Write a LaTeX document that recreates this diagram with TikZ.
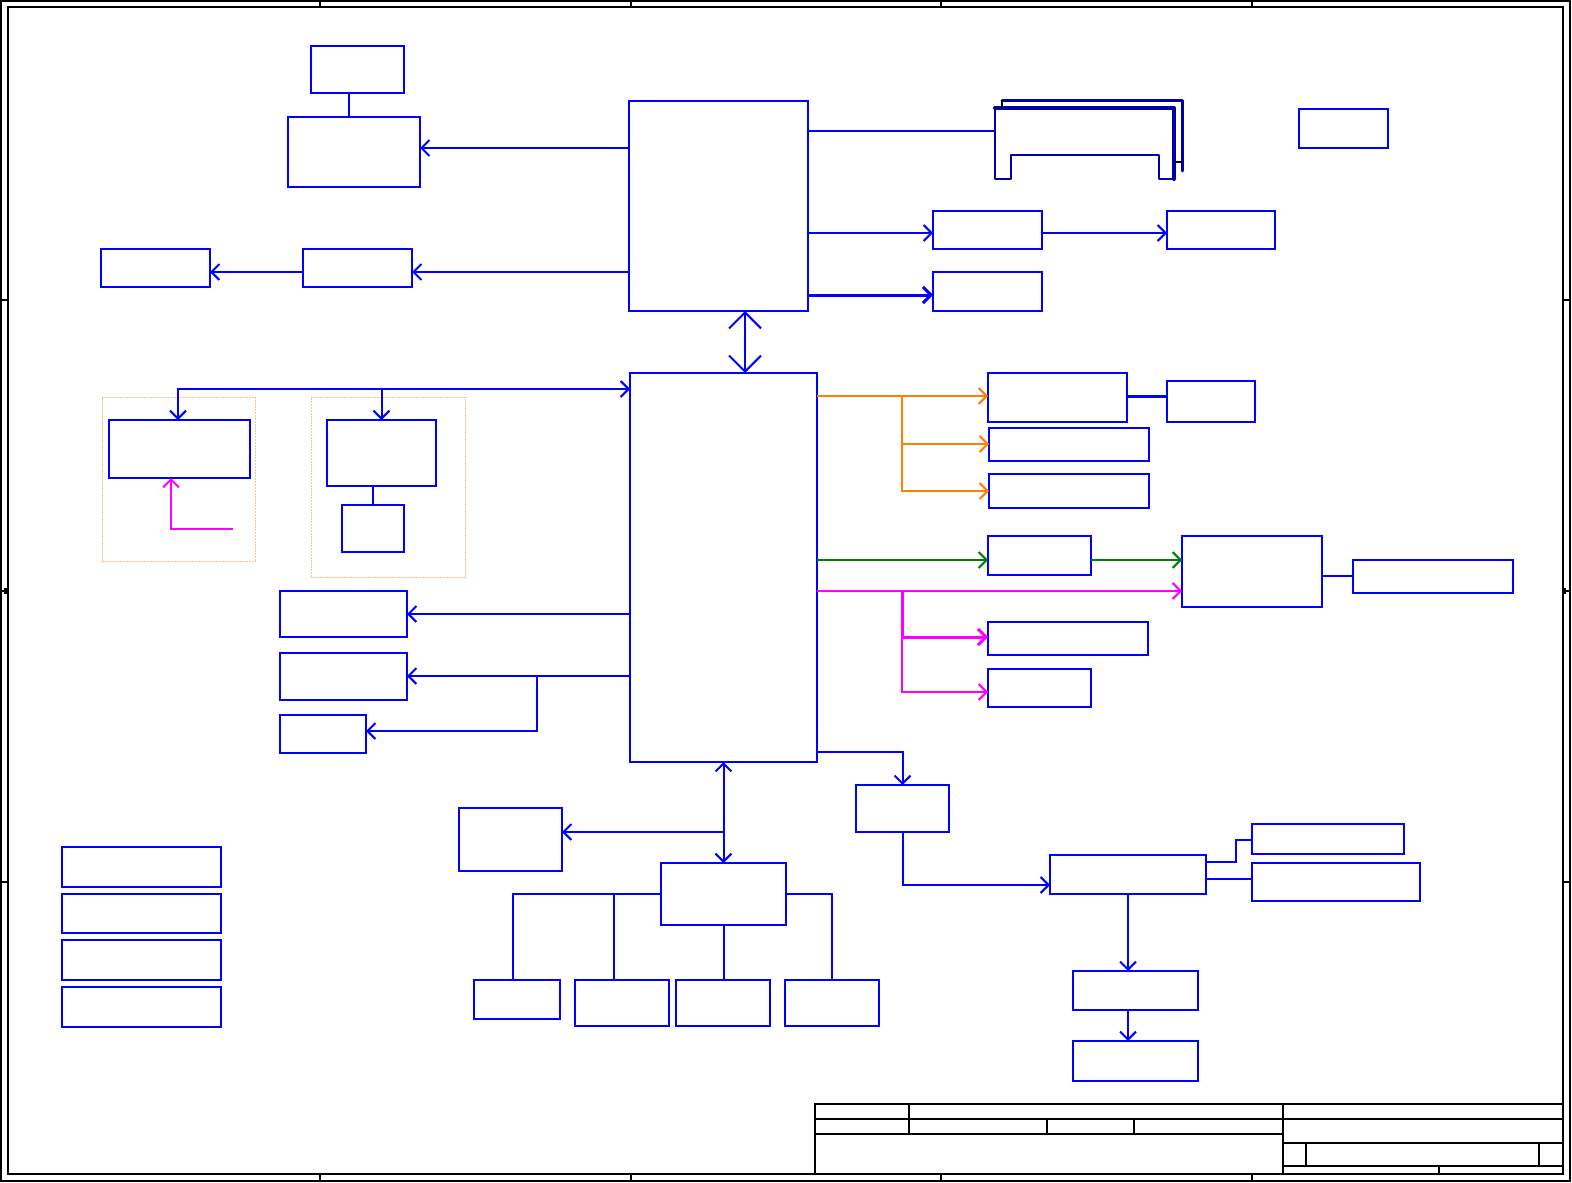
\documentclass[tikz,border=0pt]{standalone}
\usetikzlibrary{arrows.meta}
\definecolor{cblue}{RGB}{0,0,255}
\definecolor{cnavy}{RGB}{0,0,165}
\definecolor{corange}{RGB}{255,128,0}
\definecolor{cgreen}{RGB}{0,128,0}
\definecolor{cmag}{RGB}{255,0,255}
\definecolor{cdot}{RGB}{255,190,130}
\newcommand{\blk}[6][]{\node[blk,#1,minimum width={(#5)-(#3)},minimum height={(#6)-(#4)}] (#2) at ({((#3)+(#5))/2},{((#4)+(#6))/2}) {};}
\begin{document}
\begin{tikzpicture}[x=1pt,y=-1pt,
  blk/.style={draw=cblue,line width=2pt,rectangle,inner sep=0pt,outer sep=0pt},
  grp/.style={draw=cdot,line width=0.8pt,dash pattern=on 2pt off 1pt,rectangle,inner sep=0pt,outer sep=0pt},
  wire/.style={draw=cblue,line width=2pt},
  arr/.style={wire,-{Straight Barb[length=8pt,width=16pt]}},
  barr/.style={wire,{Straight Barb[length=8pt,width=16pt]}-{Straight Barb[length=8pt,width=16pt]}},
  bigarr/.style={wire,{Straight Barb[length=16pt,width=32pt]}-{Straight Barb[length=16pt,width=32pt]}},
  oarr/.style={arr,draw=corange},
  garr/.style={arr,draw=cgreen},
  marr/.style={arr,draw=cmag},
  frm/.style={draw=black,line width=1.3pt},
  dimm/.style={draw=cnavy,line width=3pt,line join=round,line cap=round}]
\useasboundingbox (0,0) rectangle (1572,1183);
\fill[white] (0,0) rectangle (1572,1183);
% frame
\draw[frm] (1,1) rectangle (1570,1181);
\draw[frm] (8,7) rectangle (1563,1174);
\foreach \x in {320,631,941,1252}{\draw[frm] (\x,1) -- (\x,7); \draw[frm] (\x,1174) -- (\x,1181);}
\foreach \y in {300,882}{\draw[frm] (1,\y) -- (8,\y); \draw[frm] (1563,\y) -- (1570,\y);}
\draw[frm] (1,591) -- (8,591); \fill (4,588) rectangle (7,594);
\draw[frm] (1563,591) -- (1570,591); \fill (1563,588) rectangle (1566,594);
% title block
\draw[frm] (815,1174) -- (815,1104) -- (1563,1104);
\draw[frm] (815,1119) -- (1563,1119);
\draw[frm] (815,1134) -- (1283,1134);
\draw[frm] (909,1104) -- (909,1134);
\draw[frm] (1047,1119) -- (1047,1134);
\draw[frm] (1134,1119) -- (1134,1134);
\draw[frm] (1283,1104) -- (1283,1174);
\draw[frm] (1283,1143) -- (1563,1143);
\draw[frm] (1283,1166) -- (1563,1166);
\draw[frm] (1306,1143) -- (1306,1166);
\draw[frm] (1539,1143) -- (1539,1166);
\draw[frm] (1439,1166) -- (1439,1174);
% blocks
\blk{n1}{311}{46}{404}{93}
\blk{n2}{288}{117}{420}{187}
\blk{a1}{101}{249}{210}{287}
\blk{a2}{303}{249}{412}{287}
\blk{cpu}{629}{101}{808}{311}
\blk{r1}{933}{211}{1042}{249}
\blk{r2}{933}{272}{1042}{311}
\blk{r3}{1167}{211}{1275}{249}
\blk{tr}{1299}{109}{1388}{148}
\blk{sb}{630}{373}{817}{762}
\node[grp,minimum width=153,minimum height=164] (gA) at ({(102+255)/2},{(397+561)/2}) {};
\node[grp,minimum width=154,minimum height=180] (gB) at ({(311+465)/2},{(397+577)/2}) {};
\blk{p1}{109}{420}{250}{478}
\blk{p2}{327}{420}{436}{486}
\blk{p3}{342}{505}{404}{552}
\blk{l1}{280}{591}{407}{637}
\blk{l2}{280}{653}{407}{700}
\blk{l3}{280}{715}{366}{753}
\blk{o1}{988}{373}{1127}{422}
\blk{o1b}{1167}{381}{1255}{422}
\blk{o2}{989}{428}{1149}{461}
\blk{o3}{989}{474}{1149}{508}
\blk{g1}{988}{536}{1091}{575}
\blk{h}{1182}{536}{1322}{607}
\blk{h2}{1353}{560}{1513}{593}
\blk{m1}{988}{622}{1148}{655}
\blk{m2}{988}{669}{1091}{707}
\blk{e1}{856}{785}{949}{832}
\blk{e2}{1050}{855}{1206}{894}
\blk{e3}{1252}{824}{1404}{854}
\blk{e4}{1252}{863}{1420}{901}
\blk{e5}{1073}{971}{1198}{1010}
\blk{e6}{1073}{1041}{1198}{1081}
\blk{k1}{459}{808}{562}{871}
\blk{k2}{661}{863}{786}{925}
\blk{c1}{474}{980}{560}{1019}
\blk{c2}{575}{980}{669}{1026}
\blk{c3}{676}{980}{770}{1026}
\blk{c4}{785}{980}{879}{1026}
\blk{leg1}{62}{847}{221}{887}
\blk{leg2}{62}{894}{221}{933}
\blk{leg3}{62}{940}{221}{980}
\blk{leg4}{62}{987}{221}{1027}
% memory slot graphic
\coordinate (dimm) at (995,131);
\draw[dimm] (1002,100) -- (1182,100) -- (1182,171);
\draw[dimm,line width=4pt] (995,108) -- (1174,108) -- (1174,179);
\draw[dimm,line width=2.5pt] (995,108) -- (995,179) -- (1011,179) -- (1011,155) -- (1159,155) -- (1159,179) -- (1174,179);
\draw[black,line width=1.3pt] (1002,100) -- (1002,108);
\draw[black,line width=1.3pt] (1176,162) -- (1182,162);
% connectors top
\draw[wire] (n1.south -| 349,0) -- (n2.north -| 349,0);
\draw[arr] (cpu.west |- 0,148) -- (n2.east |- 0,148);
\draw[arr] (cpu.west |- 0,272) -- (a2.east |- 0,272);
\draw[arr] (a2.west |- 0,272) -- (a1.east |- 0,272);
\draw[wire] (cpu.east |- 0,131) -- (dimm);
\draw[arr] (cpu.east |- 0,233) -- (r1.west |- 0,233);
\draw[arr] (r1.east |- 0,233) -- (r3.west |- 0,233);
\draw[arr,line width=3pt] (cpu.east |- 0,295) -- (r2.west |- 0,295);
\draw[bigarr] (cpu.south -| 745,0) -- (sb.north -| 745,0);
% left of south bridge
\draw[barr] (p1.north -| 178,0) |- (sb.west |- 0,389);
\draw[arr] (p2.north |- 0,389) -- (p2.north);
\coordinate (mst) at (233,529);
\draw[marr] (mst) -| (p1.south -| 171,0);
\draw[wire] (p2.south -| 373,0) -- (p3.north -| 373,0);
\draw[arr] (sb.west |- 0,614) -- (l1.east |- 0,614);
\draw[arr] (sb.west |- 0,676) -- (l2.east |- 0,676);
\draw[arr] (537,676) |- (l3.east |- 0,731);
% right of south bridge
\draw[oarr] (sb.east |- 0,396) -- (o1.west |- 0,396);
\draw[oarr] (902,396) |- (o2.west |- 0,444);
\draw[oarr] (902,396) |- (o3.west |- 0,491);
\draw[wire,line width=3pt] (o1.east |- 0,396) -- (o1b.west |- 0,396);
\draw[garr] (sb.east |- 0,560) -- (g1.west |- 0,560);
\draw[garr] (g1.east |- 0,560) -- (h.west |- 0,560);
\draw[marr] (sb.east |- 0,591) -- (h.west |- 0,591);
\draw[marr,line width=3pt] (902,591) |- (m1.west |- 0,637);
\draw[marr] (902,591) |- (m2.west |- 0,692);
\draw[wire] (h.east |- 0,576) -- (h2.west |- 0,576);
% lower right
\draw[arr] (sb.east |- 0,752) -| (e1.north);
\draw[arr] (e1.south) |- (e2.west |- 0,885);
\draw[wire] (e2.east |- 0,862) -- (1236,862) -- (1236,840) -- (e3.west |- 0,840);
\draw[wire] (e2.east |- 0,879) -- (e4.west |- 0,879);
\draw[arr] (e2.south -| 1128,0) -- (e5.north -| 1128,0);
\draw[arr] (e5.south -| 1128,0) -- (e6.north -| 1128,0);
% bottom
\draw[barr] (sb.south) -- (k2.north);
\draw[arr] (k2.north |- 0,832) -- (k1.east |- 0,832);
\draw[wire] (k2.west |- 0,894) -| (c1.north -| 513,0);
\draw[wire] (614,894) -- (c2.north -| 614,0);
\draw[wire] (k2.south) -- (c3.north -| k2.south);
\draw[wire] (k2.east |- 0,894) -| (c4.north);
\end{tikzpicture}
\end{document}
